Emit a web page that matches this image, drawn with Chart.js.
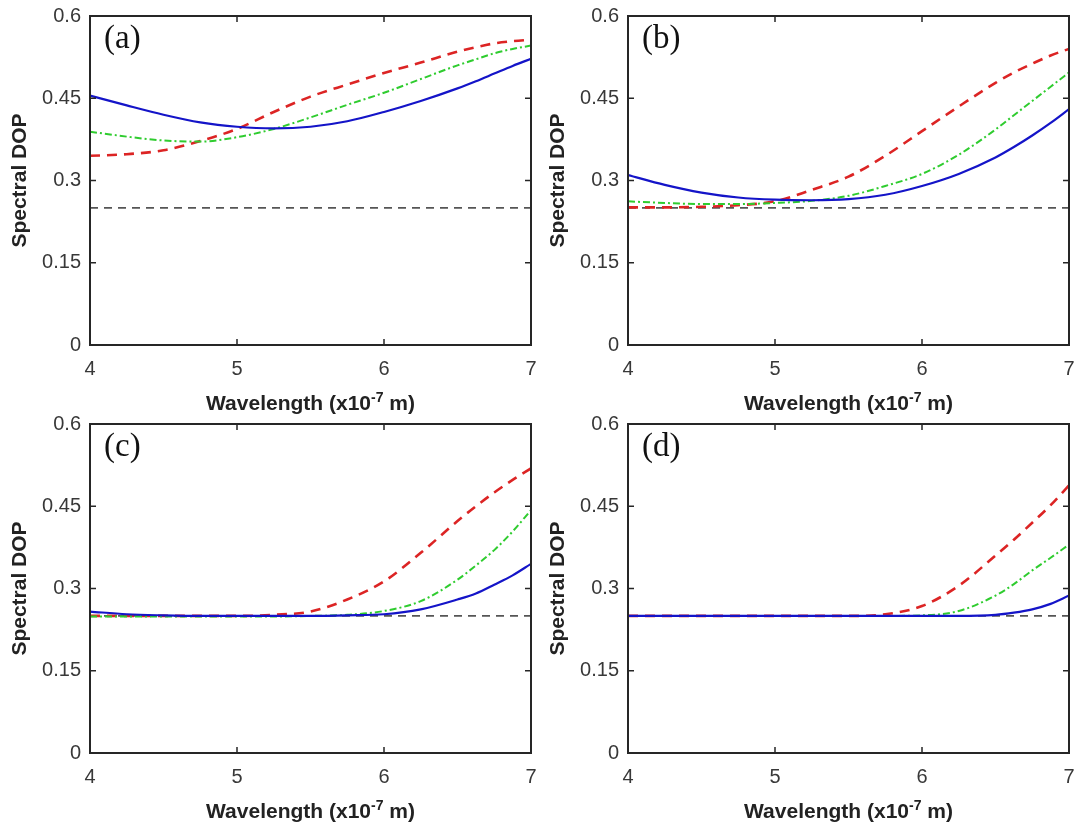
<!DOCTYPE html>
<html>
<head>
<meta charset="utf-8">
<script src="https://cdn.jsdelivr.net/npm/chart.js@4.4.1/dist/chart.umd.min.js"></script>
<style>
  html, body { margin: 0; padding: 0; background: #ffffff; overflow: hidden; width: 1077px; height: 828px; }
  canvas { position: absolute; }
</style>
</head>
<body>
<canvas id="pa" width="540" height="414" style="left:0px;top:0px"></canvas>
<canvas id="pb" width="540" height="414" style="left:538px;top:0px"></canvas>
<canvas id="pc" width="540" height="414" style="left:0px;top:408px"></canvas>
<canvas id="pd" width="540" height="414" style="left:538px;top:408px"></canvas>
<script>
// ---- data ----
const wavelength = [4, 4.25, 4.5, 4.75, 5, 5.25, 5.5, 5.75, 6, 6.25, 6.5, 6.625, 6.75, 6.875, 7];

const blueA  = [0.455,0.437,0.420,0.406,0.398,0.395,0.398,0.408,0.425,0.445,0.468,0.481,0.495,0.509,0.522];
const greenA = [0.389,0.380,0.373,0.371,0.379,0.394,0.415,0.438,0.460,0.485,0.510,0.521,0.532,0.540,0.546];
const redA   = [0.345,0.348,0.355,0.372,0.394,0.425,0.453,0.475,0.496,0.515,0.535,0.543,0.550,0.554,0.557];

const blueB  = [0.310,0.292,0.278,0.269,0.265,0.264,0.266,0.274,0.290,0.312,0.342,0.361,0.382,0.405,0.430];
const greenB = [0.262,0.259,0.257,0.257,0.259,0.263,0.272,0.290,0.312,0.347,0.393,0.419,0.445,0.471,0.497];
const redB   = [0.251,0.251,0.252,0.255,0.262,0.283,0.307,0.345,0.390,0.435,0.478,0.497,0.513,0.528,0.540];

const blueC  = [0.258,0.253,0.251,0.250,0.250,0.250,0.250,0.251,0.253,0.262,0.280,0.291,0.307,0.324,0.345];
const greenC = [0.249,0.249,0.249,0.249,0.249,0.249,0.250,0.252,0.259,0.277,0.316,0.342,0.370,0.404,0.443];
const redC   = [0.250,0.250,0.250,0.250,0.250,0.252,0.258,0.280,0.313,0.365,0.423,0.450,0.475,0.498,0.519];

const blueD  = [0.250,0.250,0.250,0.250,0.250,0.250,0.250,0.250,0.250,0.250,0.252,0.256,0.262,0.272,0.287];
const greenD = [0.250,0.250,0.250,0.250,0.250,0.250,0.250,0.250,0.251,0.259,0.287,0.308,0.333,0.356,0.380];
const redD   = [0.250,0.250,0.250,0.250,0.250,0.250,0.250,0.253,0.268,0.305,0.360,0.389,0.420,0.452,0.488];

const referenceX   = [4, 7];
const referenceDOP = [0.25, 0.25];

const xTicks = [4, 5, 6, 7];
const yTicks = [0, 0.15, 0.3, 0.45, 0.6];
const panelLabels = ['(a)', '(b)', '(c)', '(d)'];
const yTitle = 'Spectral DOP';
const xTitleMain = 'Wavelength (x10';
const xTitleSup = '-7';
const xTitleEnd = ' m)';

// ---- drawing ----
const SANS = '"Liberation Sans", Arial, sans-serif';
Chart.defaults.font.family = SANS;

const toPts = (xs, ys) => xs.map((x, i) => ({ x: x, y: ys[i] }));

const framePlugin = {
  id: 'frame',
  afterDatasetsDraw(chart, args, opts) {
    const { ctx, chartArea: a, scales: { x, y } } = chart;
    ctx.save();
    ctx.strokeStyle = '#262626';
    ctx.lineWidth = 1.5;
    ctx.beginPath();
    xTicks.forEach(v => {
      const px = x.getPixelForValue(v);
      ctx.moveTo(px, a.bottom); ctx.lineTo(px, a.bottom - 6);
      ctx.moveTo(px, a.top); ctx.lineTo(px, a.top + 6);
    });
    yTicks.forEach(v => {
      const py = y.getPixelForValue(v);
      ctx.moveTo(a.left, py); ctx.lineTo(a.left + 6, py);
      ctx.moveTo(a.right, py); ctx.lineTo(a.right - 6, py);
    });
    ctx.stroke();
    ctx.lineWidth = 2;
    ctx.strokeRect(a.left, a.top, a.right - a.left, a.bottom - a.top);

    // panel label
    ctx.fillStyle = '#111111';
    ctx.font = '33px "Liberation Serif", "Times New Roman", serif';
    ctx.textAlign = 'left';
    ctx.textBaseline = 'middle';
    ctx.fillText(opts.label, a.left + 14, a.top + 23);

    // x-axis title with superscript
    const mainFont = 'bold 21px ' + SANS;
    const supFont = 'bold 14px ' + SANS;
    ctx.font = mainFont;
    const w1 = ctx.measureText(xTitleMain).width;
    const w3 = ctx.measureText(xTitleEnd).width;
    ctx.font = supFont;
    const w2 = ctx.measureText(xTitleSup).width;
    const total = w1 + w2 + w3;
    let sx = (a.left + a.right) / 2 - total / 2;
    const base = a.bottom + 65;
    ctx.fillStyle = '#222222';
    ctx.textBaseline = 'alphabetic';
    ctx.font = mainFont;
    ctx.fillText(xTitleMain, sx, base);
    sx += w1;
    ctx.font = supFont;
    ctx.fillText(xTitleSup, sx, base - 8);
    sx += w2;
    ctx.font = mainFont;
    ctx.fillText(xTitleEnd, sx, base);
    ctx.restore();
  }
};

function makePanel(id, label, blue, green, red) {
  new Chart(document.getElementById(id), {
    type: 'line',
    data: {
      datasets: [
        { data: toPts(wavelength, blue), borderColor: '#1414c8', borderWidth: 2.2,
          cubicInterpolationMode: 'monotone', pointRadius: 0 },
        { data: toPts(wavelength, green), borderColor: '#2fcc2f', borderWidth: 2,
          borderDash: [7, 3, 2, 3], cubicInterpolationMode: 'monotone', pointRadius: 0 },
        { data: toPts(wavelength, red), borderColor: '#dc2424', borderWidth: 2.6,
          borderDash: [10, 7], cubicInterpolationMode: 'monotone', pointRadius: 0 },
        { data: toPts(referenceX, referenceDOP), borderColor: '#555555', borderWidth: 1.6,
          borderDash: [8, 6], pointRadius: 0 }
      ]
    },
    options: {
      responsive: false,
      animation: false,
      devicePixelRatio: 1,
      layout: { padding: { left: 0, right: 9, top: 16, bottom: 0 } },
      plugins: {
        legend: { display: false },
        tooltip: { enabled: false },
        frame: { label: label }
      },
      scales: {
        x: {
          type: 'linear', min: 4, max: 7,
          afterBuildTicks: s => { s.ticks = xTicks.map(v => ({ value: v })); },
          afterFit: s => { s.height = 69; s.paddingLeft = 0; s.paddingRight = 0; },
          grid: { display: false, drawTicks: false },
          border: { display: false },
          ticks: { padding: 12, color: '#383838', font: { size: 20 }, maxRotation: 0,
                   callback: v => String(v) }
        },
        y: {
          type: 'linear', min: 0, max: 0.6,
          afterBuildTicks: s => { s.ticks = yTicks.map(v => ({ value: v })); },
          afterFit: s => { s.width = 90; s.paddingTop = 0; s.paddingBottom = 0; },
          grid: { display: false, drawTicks: false },
          border: { display: false },
          ticks: { padding: 9, color: '#383838', font: { size: 20 },
                   callback: v => String(+Number(v).toFixed(2)) },
          title: { display: true, text: yTitle, color: '#222222',
                   font: { size: 21, weight: 'bold' }, padding: { top: 8, bottom: 0 } }
        }
      }
    },
    plugins: [framePlugin]
  });
}

makePanel('pa', panelLabels[0], blueA, greenA, redA);
makePanel('pb', panelLabels[1], blueB, greenB, redB);
makePanel('pc', panelLabels[2], blueC, greenC, redC);
makePanel('pd', panelLabels[3], blueD, greenD, redD);
</script>
</body>
</html>
